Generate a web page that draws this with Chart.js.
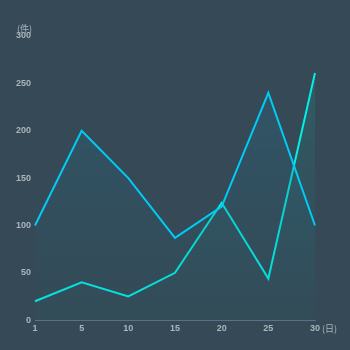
<!DOCTYPE html>
<html>
<head>
<meta charset="utf-8">
<script src="https://cdn.jsdelivr.net/npm/chart.js@4/dist/chart.umd.min.js"></script>
<style>
  html, body { margin: 0; padding: 0; background: #354a56; }
  #wrap { width: 350px; height: 350px; }
</style>
</head>
<body>
<div id="wrap"><canvas id="c"></canvas></div>
<script>
// 数据
const days = ['1', '5', '10', '15', '20', '25', '30'];
const seriesBlue = [100, 200, 150, 87, 120, 240, 100];
const seriesCyan = [20, 40, 25, 50, 124, 44, 261];
const yTicks = [0, 50, 100, 150, 200, 250, 300];

const tickColor = '#aab5be';

// 渐变填充
function grad(ctx, top, bottom) {
  const chart = ctx.chart;
  const area = chart.chartArea;
  if (!area) return top;
  const g = chart.ctx.createLinearGradient(0, area.top, 0, area.bottom);
  g.addColorStop(0, top);
  g.addColorStop(1, bottom);
  return g;
}

// 单位文字
const unitLabels = {
  id: 'unitLabels',
  afterDraw(chart) {
    const c = chart.ctx;
    const x = chart.scales.x, y = chart.scales.y;
    c.save();
    c.fillStyle = tickColor;
    c.font = '9px "Noto Sans CJK SC", "Open Sans", sans-serif';
    c.textBaseline = 'middle';
    c.textAlign = 'left';
    c.fillText('(件)', 17, y.top - 7);
    c.fillText('(日)', x.right + 7, y.bottom + 8);
    c.restore();
  }
};

new Chart(document.getElementById('c'), {
  type: 'line',
  data: {
    labels: days,
    datasets: [
      {
        data: seriesBlue,
        borderColor: '#00cbf5',
        borderWidth: 2,
        pointRadius: 0,
        tension: 0,
        fill: 'origin',
        backgroundColor: ctx => grad(ctx, 'rgba(40,110,140,0.45)', 'rgba(40,90,110,0.05)')
      },
      {
        data: seriesCyan,
        borderColor: '#00f0e6',
        borderWidth: 2,
        pointRadius: 0,
        tension: 0,
        fill: 'origin',
        backgroundColor: ctx => grad(ctx, 'rgba(40,140,140,0.35)', 'rgba(40,100,110,0.05)')
      }
    ]
  },
  options: {
    responsive: true,
    maintainAspectRatio: false,
    animation: false,
    layout: { padding: { top: 36, right: 35, bottom: 13, left: 0 } },
    plugins: { legend: { display: false }, tooltip: { enabled: false } },
    scales: {
      x: {
        offset: false,
        grid: { display: false, drawTicks: false },
        border: { color: '#5b7189', width: 1 },
        ticks: { color: tickColor, font: { size: 9, weight: 'bold' }, padding: 3, maxRotation: 0 }
      },
      y: {
        min: 0,
        max: 300,
        afterBuildTicks(axis) { axis.ticks = yTicks.map(v => ({ value: v })); },
        afterFit(axis) { axis.width = 35; },
        grid: { display: false, drawTicks: false },
        border: { display: false },
        ticks: { color: tickColor, font: { size: 9, weight: 'bold' }, padding: 4 }
      }
    }
  },
  plugins: [unitLabels]
});
</script>
</body>
</html>
